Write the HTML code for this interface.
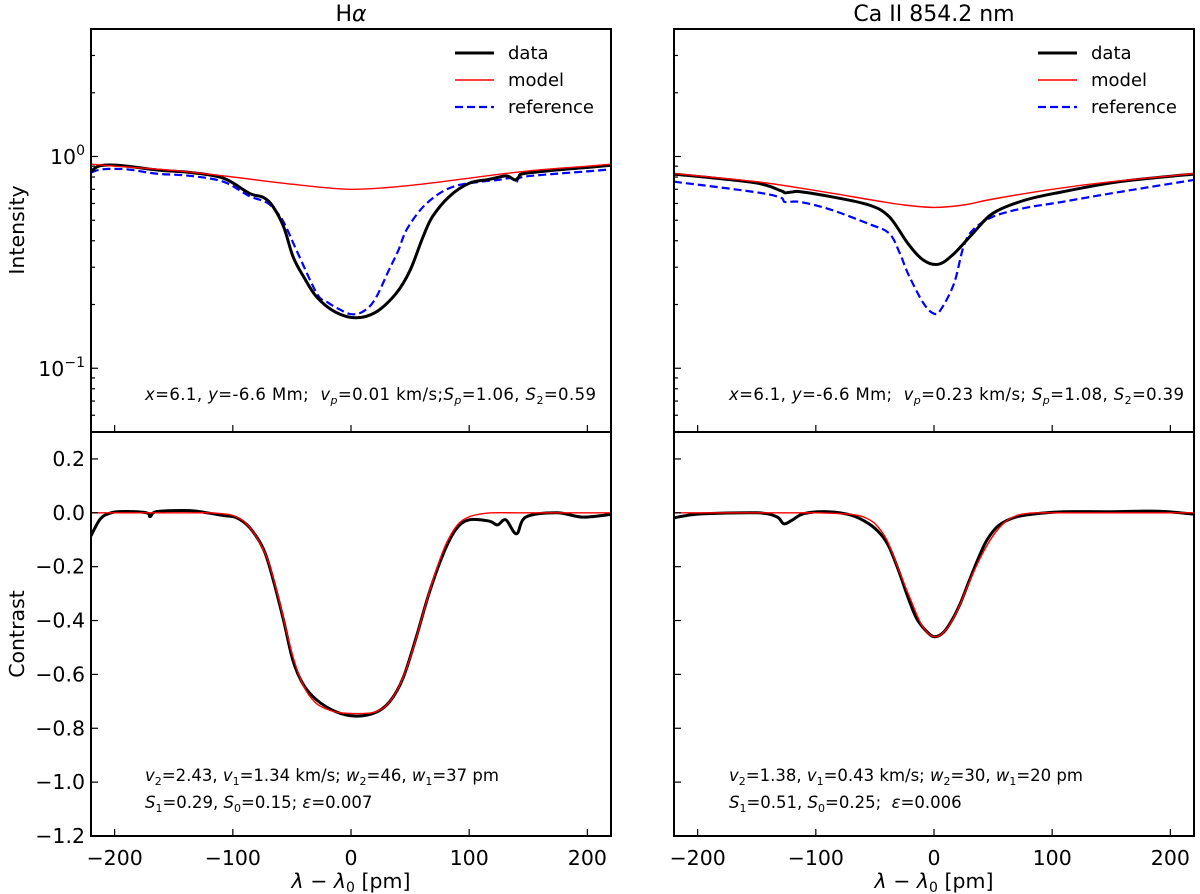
<!DOCTYPE html>
<html><head><meta charset="utf-8"><style>
html,body{margin:0;padding:0;background:#fff}
svg{display:block;font-family:"DejaVu Sans","Liberation Sans",sans-serif}
</style></head><body>
<svg id="fig" width="1200" height="894" viewBox="0 0 1200 894"></svg>
<script>
// ---- data (x in pm) ----
const haDataX = [-220,-212,-193,-164,-136,-108,-86,-74,-66,-57,-49,-40,-29,-13,4,21,38,50,61,69,83,100,117,131,136,139,142,146,174,202,220];
const haDataI = [0.85,0.905,0.905,0.863,0.84,0.79,0.67,0.64,0.58,0.466,0.336,0.27,0.217,0.184,0.173,0.184,0.225,0.29,0.418,0.52,0.646,0.747,0.78,0.81,0.79,0.774,0.8,0.83,0.863,0.89,0.91];
const haRefX = [-220,-210,-190,-165,-136,-108,-86,-70,-58,-46,-29,-20,-10,0,10,20,32,40,47,60,75,90,110,125,135,140,145,175,200,220];
const haRefI = [0.84,0.87,0.87,0.83,0.81,0.76,0.65,0.6,0.5,0.36,0.226,0.205,0.19,0.18,0.185,0.21,0.29,0.36,0.45,0.57,0.67,0.73,0.76,0.775,0.79,0.76,0.8,0.83,0.85,0.87];
const haModX = [-220,-200,-150,-100,-50,0,50,100,150,200,220];
const haModI = [0.92,0.9,0.86,0.8,0.74,0.70,0.73,0.79,0.855,0.9,0.92];
const haConX = [-220,-212,-203,-193,-173,-170,-164,-136,-122,-108,-97,-86,-74,-66,-57,-49,-40,-29,-13,4,21,33,44,55,66,78,89,100,117,124,131,140,148,174,196,220];
const haConC = [-0.085,-0.022,0,0.005,0,-0.014,0.005,0.008,0,-0.01,-0.018,-0.054,-0.135,-0.246,-0.40,-0.55,-0.64,-0.695,-0.738,-0.755,-0.741,-0.70,-0.614,-0.465,-0.30,-0.153,-0.06,-0.026,-0.031,-0.045,-0.026,-0.078,-0.016,0,-0.016,-0.006];
const haConModX = [-220,-200,-180,-160,-140,-120,-110,-100,-90,-80,-70,-60,-50,-40,-30,-20,-10,0,10,20,30,40,50,60,70,80,90,100,110,120,140,160,180,200,220];
const haConModC = [0,0,0,0,0,0,-0.003,-0.01,-0.035,-0.09,-0.18,-0.34,-0.52,-0.645,-0.705,-0.73,-0.742,-0.745,-0.745,-0.74,-0.715,-0.65,-0.54,-0.39,-0.24,-0.12,-0.045,-0.015,-0.004,0,0,0,0,0,0];

const caDataX = [-220,-152,-130,-126,-120,-113,-87,-55,-38,-22,-9,4,17,33,50,76,108,157,220];
const caDataI = [0.826,0.752,0.69,0.674,0.68,0.682,0.646,0.59,0.52,0.388,0.324,0.31,0.348,0.434,0.54,0.62,0.68,0.76,0.826];
const caRefX = [-220,-152,-130,-126,-113,-87,-55,-38,-29,-22,-9,0,6,17,25,33,50,76,108,157,220];
const caRefI = [0.76,0.68,0.64,0.61,0.61,0.56,0.48,0.434,0.35,0.28,0.203,0.181,0.19,0.252,0.375,0.45,0.52,0.57,0.61,0.68,0.775];
const caModX = [-220,-150,-100,-50,-25,0,25,50,100,150,220];
const caModI = [0.83,0.76,0.69,0.62,0.59,0.575,0.59,0.63,0.70,0.76,0.83];
const caConX = [-220,-200,-150,-133,-127,-120,-110,-90,-70,-55,-45,-38,-30,-22,-15,-8,0,8,15,22,30,38,45,55,70,90,110,150,190,220];
const caConC = [-0.019,-0.005,0,-0.015,-0.041,-0.027,-0.003,0.004,-0.009,-0.041,-0.08,-0.127,-0.214,-0.314,-0.39,-0.432,-0.46,-0.444,-0.40,-0.339,-0.25,-0.164,-0.1,-0.046,-0.015,-0.002,0.004,0.004,0.006,-0.005];
const caConModX = [-220,-200,-180,-160,-140,-120,-100,-80,-70,-60,-50,-40,-30,-20,-10,0,10,20,30,40,50,60,70,80,90,100,120,140,160,180,200,220];
const caConModC = [0,0,0,0,0,0,0,-0.003,-0.006,-0.015,-0.04,-0.1,-0.21,-0.32,-0.42,-0.46,-0.435,-0.36,-0.255,-0.16,-0.085,-0.035,-0.01,-0.002,0,0,0,0,0,0,0,0];

const xTicks = [-200,-100,0,100,200];
const cTicks = [0.2,0.0,-0.2,-0.4,-0.6,-0.8,-1.0,-1.2];
const cTickLabels = ["0.2","0.0","\u22120.2","\u22120.4","\u22120.6","\u22120.8","\u22121.0","\u22121.2"];

const NS = "http://www.w3.org/2000/svg";
const svg = document.getElementById('fig');
function el(tag, attrs, parent){const e=document.createElementNS(NS,tag);for(const k in attrs)e.setAttribute(k,attrs[k]);(parent||svg).appendChild(e);return e;}

const TOP0=29, MID=432, BOT=836;
const panels=[{x0:91,x1:611,key:'ha'},{x0:674,x1:1194,key:'ca'}];
function xs(p,v){return p.x0+(v+220)/440*(p.x1-p.x0);}
function yI(v){return MID-(Math.log10(v)-Math.log10(0.05))/(Math.log10(4)-Math.log10(0.05))*(MID-TOP0);}
function yC(v){return BOT-(v+1.2)/1.5*(BOT-MID);}

const defs=el('defs',{});
panels.forEach((p,i)=>{
  const c1=el('clipPath',{id:'ct'+i},defs); el('rect',{x:p.x0,y:TOP0,width:p.x1-p.x0,height:MID-TOP0},c1);
  const c2=el('clipPath',{id:'cb'+i},defs); el('rect',{x:p.x0,y:MID,width:p.x1-p.x0,height:BOT-MID},c2);
});

function smoothPath(P){
  let d='M'+P[0][0].toFixed(1)+','+P[0][1].toFixed(1);
  for(let i=0;i<P.length-1;i++){
    const p0=P[i-1]||P[i],p1=P[i],p2=P[i+1],p3=P[i+2]||P[i+1];
    const t=1/6;
    const c1x=p1[0]+(p2[0]-p0[0])*t,c1y=p1[1]+(p2[1]-p0[1])*t;
    const c2x=p2[0]-(p3[0]-p1[0])*t,c2y=p2[1]-(p3[1]-p1[1])*t;
    d+=' C'+c1x.toFixed(1)+','+c1y.toFixed(1)+' '+c2x.toFixed(1)+','+c2y.toFixed(1)+' '+p2[0].toFixed(1)+','+p2[1].toFixed(1);
  }
  return d;
}
function line(p,xsArr,ysArr,yf,style,clip,name){
  const P=xsArr.map((x,i)=>[xs(p,x),yf(ysArr[i])]);
  const l=el('path',Object.assign({d:smoothPath(P),fill:'none','stroke-linejoin':'round','stroke-linecap':'butt','clip-path':'url(#'+clip+')'},style));
  
  
}
const sBlack={stroke:'#000','stroke-width':3};
const sRed={stroke:'#ff0000','stroke-width':1.4};
const sBlue={stroke:'#0000ff','stroke-width':2.2,'stroke-dasharray':'8,4'};

function text(x,y,str,attrs,name){const t=el('text',Object.assign({x:x,y:y,fill:'#000'},attrs||{}));t.innerHTML=str;return t;}

const series={
 ha:{dX:haDataX,dI:haDataI,rX:haRefX,rI:haRefI,mX:haModX,mI:haModI,cX:haConX,cC:haConC,cmX:haConModX,cmC:haConModC},
 ca:{dX:caDataX,dI:caDataI,rX:caRefX,rI:caRefI,mX:caModX,mI:caModI,cX:caConX,cC:caConC,cmX:caConModX,cmC:caConModC}
};

panels.forEach((p,i)=>{
  const s=series[p.key];
  line(p,s.rX,s.rI,yI,sBlue,'ct'+i,p.key+'-reference-line');
  line(p,s.dX,s.dI,yI,sBlack,'ct'+i,p.key+'-data-line');
  line(p,s.mX,s.mI,yI,sRed,'ct'+i,p.key+'-model-line');
  line(p,s.cX,s.cC,yC,sBlack,'cb'+i,p.key+'-contrast-data-line');
  line(p,s.cmX,s.cmC,yC,sRed,'cb'+i,p.key+'-contrast-model-line');
  const g=el('g',{stroke:'#000','stroke-width':1.2});
  
  
  xTicks.forEach(t=>{const x=xs(p,t);el('line',{x1:x,x2:x,y1:MID,y2:MID-7},g);el('line',{x1:x,x2:x,y1:BOT,y2:BOT-7},g);
    text(x,865,(t<0?'\u2212':'')+Math.abs(t),{'font-size':20.5,'text-anchor':'middle'},p.key+'-x-tick-label');});
  [0.1,1].forEach(d=>{const y=yI(d);el('line',{x1:p.x0,x2:p.x0+7,y1:y,y2:y},g);});
  [0.06,0.07,0.08,0.09,0.2,0.3,0.4,0.5,0.6,0.7,0.8,0.9,2,3].forEach(d=>{const y=yI(d);el('line',{x1:p.x0,x2:p.x0+4,y1:y,y2:y},g);});
  cTicks.forEach((t,k)=>{const y=yC(t);el('line',{x1:p.x0,x2:p.x0+7,y1:y,y2:y},g);
    if(i===0) text(p.x0-6,y+7,cTickLabels[k],{'font-size':20.5,'text-anchor':'end'},'y-tick-label-contrast');});
  const f1=el('rect',{x:p.x0,y:TOP0,width:p.x1-p.x0,height:MID-TOP0,fill:'none',stroke:'#000','stroke-width':2});
   
  const f2=el('rect',{x:p.x0,y:MID,width:p.x1-p.x0,height:BOT-MID,fill:'none',stroke:'#000','stroke-width':2});
   
  text((p.x0+p.x1)/2,888,'<tspan font-style="italic">λ</tspan> − <tspan font-style="italic">λ</tspan><tspan font-size="14" dy="4">0</tspan><tspan dy="-4"> [pm]</tspan>',{'font-size':20.5,'text-anchor':'middle'},p.key+'-x-axis-title');
  const lx=p.x0+364;
  const lg=el('g',{});  
  el('line',{x1:lx,x2:lx+39,y1:53,y2:53,stroke:'#000','stroke-width':3},lg);
  el('line',{x1:lx,x2:lx+39,y1:80,y2:80,stroke:'#ff0000','stroke-width':1.4},lg);
  el('line',{x1:lx,x2:lx+39,y1:107,y2:107,stroke:'#0000ff','stroke-width':2.2,'stroke-dasharray':'8,4'},lg);
  text(lx+53,59,'data',{'font-size':18},'legend-entry-data');
  text(lx+53,86,'model',{'font-size':18},'legend-entry-model');
  text(lx+53,113,'reference',{'font-size':18},'legend-entry-reference');
});

text(85,164,'10<tspan font-size="14" dy="-9">0</tspan>',{'font-size':20.5,'text-anchor':'end'},'y-tick-label-1e0');
text(85,376,'10<tspan font-size="14" dy="-9">−1</tspan>',{'font-size':20.5,'text-anchor':'end'},'y-tick-label-1e-1');
text(24,230,'Intensity',{'font-size':20.5,'text-anchor':'middle',transform:'rotate(-90 24 230)'},'y-axis-title-intensity');
text(24,634,'Contrast',{'font-size':20.5,'text-anchor':'middle',transform:'rotate(-90 24 634)'},'y-axis-title-contrast');
text(351,21,'H<tspan font-style="italic">α</tspan>',{'font-size':22,'text-anchor':'middle'},'title-halpha');
text(934,21,'Ca II 854.2 nm',{'font-size':22,'text-anchor':'middle'},'title-caii');

const I='<tspan font-style="italic">', E='</tspan>';
function sub(s){return '<tspan font-size="11" dy="4">'+s+'</tspan><tspan dy="-4">';}
const fs={'font-size':16.5};
text(145,400,I+'x'+E+'=6.1, '+I+'y'+E+'=-6.6 Mm;\u00a0\u00a0'+I+'v'+E+sub(I+'p'+E)+'=0.01 km/s;'+E+I+'S'+E+sub(I+'p'+E)+'=1.06, '+E+I+'S'+E+sub('2')+'=0.59'+E,Object.assign({textLength:451,lengthAdjust:'spacing'},fs),'annotation-ha-position');
text(729,400,I+'x'+E+'=6.1, '+I+'y'+E+'=-6.6 Mm;\u00a0\u00a0'+I+'v'+E+sub(I+'p'+E)+'=0.23 km/s; '+E+I+'S'+E+sub(I+'p'+E)+'=1.08, '+E+I+'S'+E+sub('2')+'=0.39'+E,Object.assign({textLength:455,lengthAdjust:'spacing'},fs),'annotation-ca-position');
text(145,781,I+'v'+E+sub('2')+'=2.43, '+E+I+'v'+E+sub('1')+'=1.34 km/s; '+E+I+'w'+E+sub('2')+'=46, '+E+I+'w'+E+sub('1')+'=37 pm'+E,fs,'annotation-ha-velocities');
text(145,808,I+'S'+E+sub('1')+'=0.29, '+E+I+'S'+E+sub('0')+'=0.15; '+E+I+'ε'+E+'=0.007',fs,'annotation-ha-source');
text(729,781,I+'v'+E+sub('2')+'=1.38, '+E+I+'v'+E+sub('1')+'=0.43 km/s; '+E+I+'w'+E+sub('2')+'=30, '+E+I+'w'+E+sub('1')+'=20 pm'+E,fs,'annotation-ca-velocities');
text(729,808,I+'S'+E+sub('1')+'=0.51, '+E+I+'S'+E+sub('0')+'=0.25;\u00a0\u00a0'+E+I+'ε'+E+'=0.006',fs,'annotation-ca-source');
</script>
</body></html>
